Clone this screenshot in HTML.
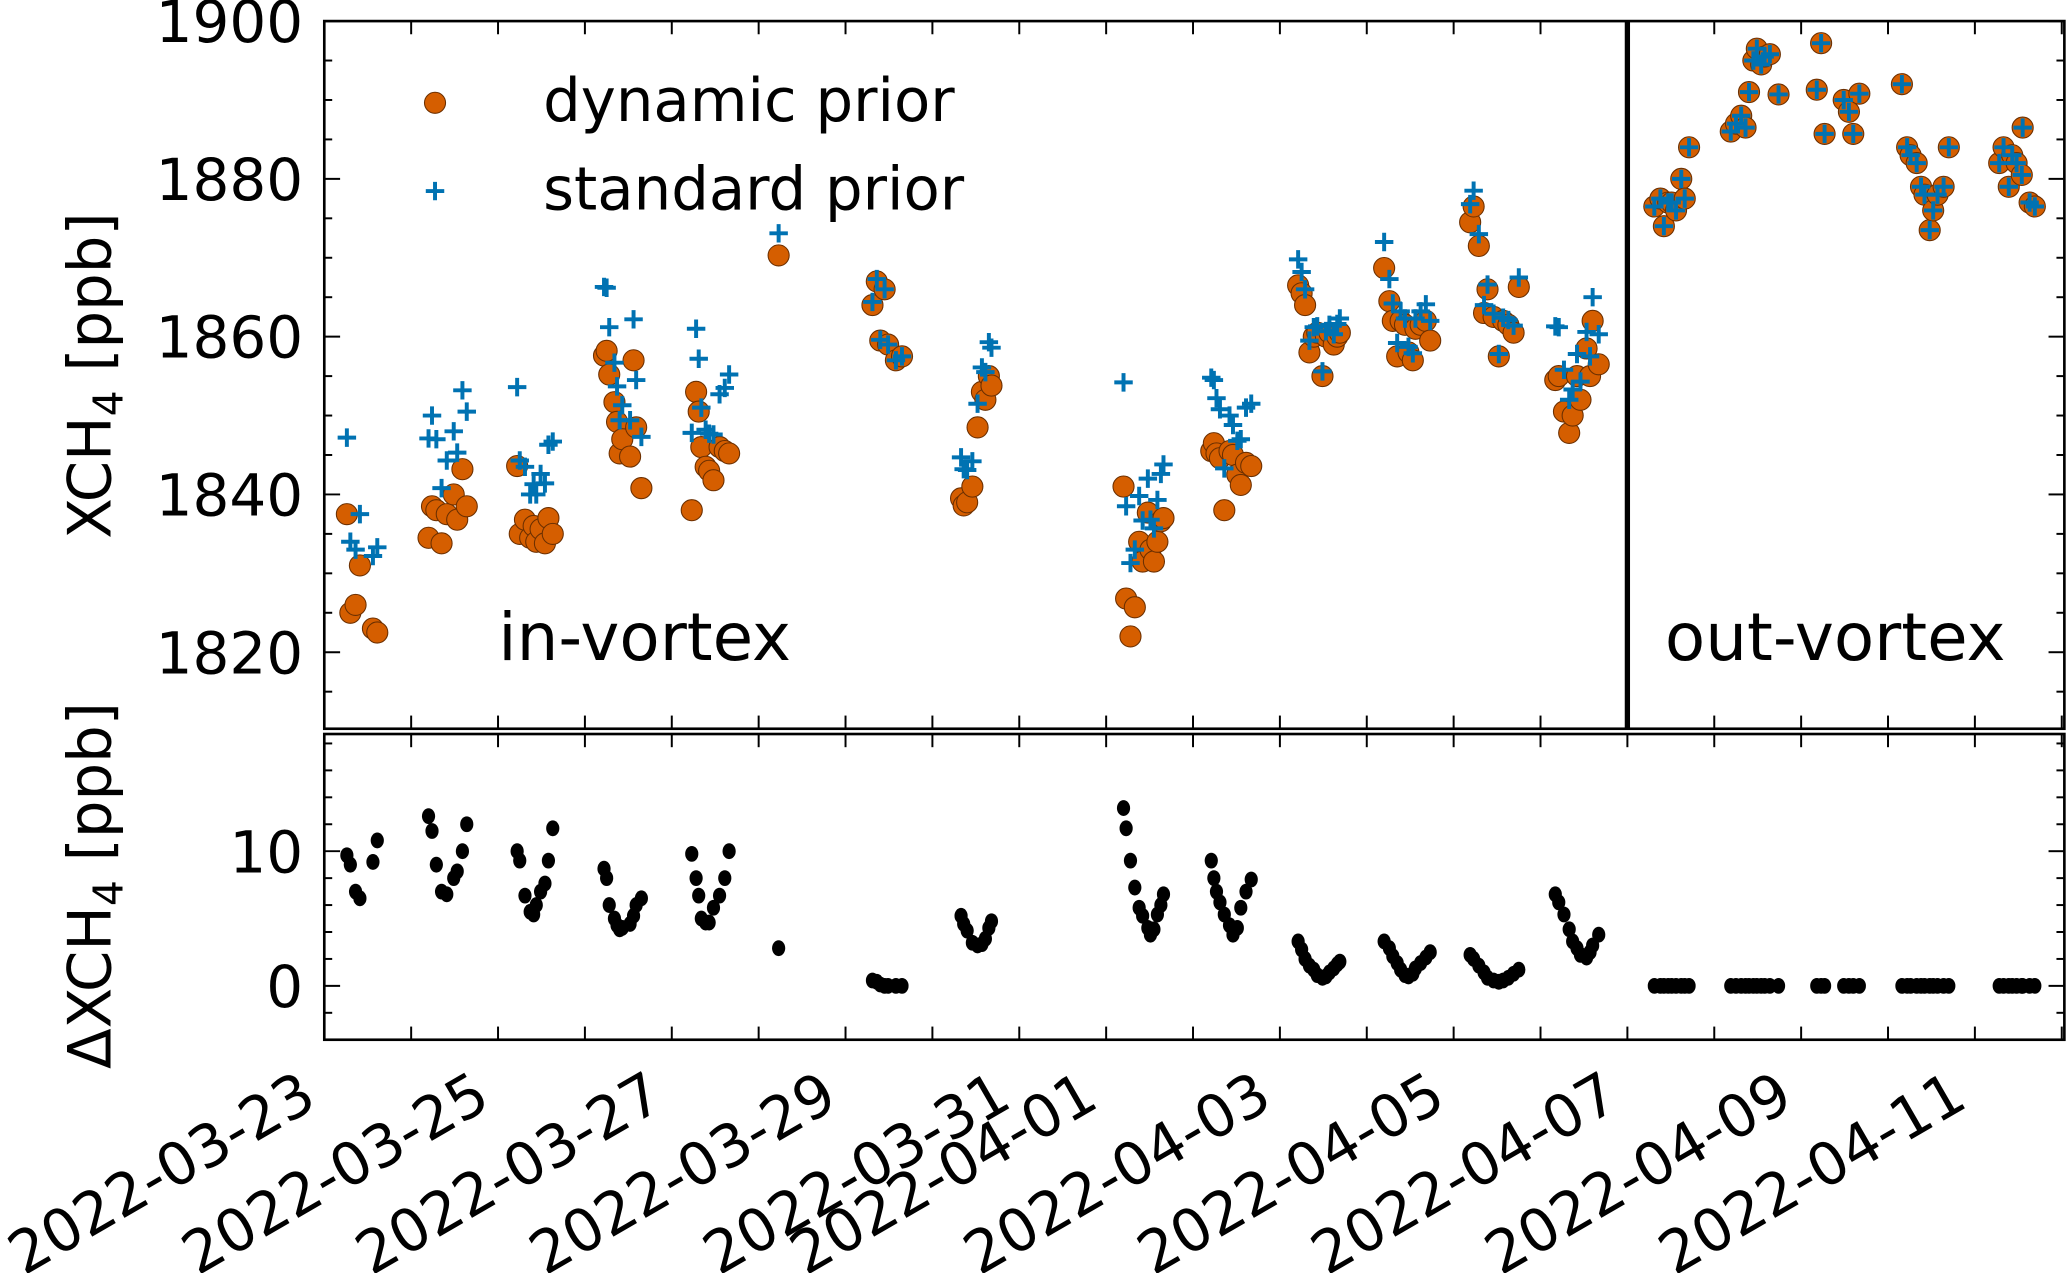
<!DOCTYPE html>
<html><head><meta charset="utf-8"><style>
html,body{margin:0;padding:0;background:#fff;}
svg{display:block;font-family:"DejaVu Sans","Liberation Sans",sans-serif;}
</style></head><body>
<svg id="chart" width="2067" height="1273" viewBox="0 0 1568 966" preserveAspectRatio="none" xmlns="http://www.w3.org/2000/svg">
<g id="gtop"></g>
<g id="gbot"></g>
<g id="gxl"></g>
<text transform="translate(84,285) rotate(-90)" text-anchor="middle" font-size="45">XCH<tspan font-size="31" dy="9">4</tspan><tspan dy="-9"> [ppb]</tspan></text>
<text transform="translate(84,672) rotate(-90)" text-anchor="middle" font-size="45">ΔXCH<tspan font-size="31" dy="9">4</tspan><tspan dy="-9"> [ppb]</tspan></text>
<g>
<circle cx="330" cy="78" r="8" fill="#d55e00" stroke="#6b2f00" stroke-width="0.8"/>
<text x="412" y="92" font-size="45">dynamic prior</text>
<path d="M323,145h14M330,138v14" stroke="#0072b2" stroke-width="3"/>
<text x="412" y="159" font-size="45">standard prior</text>
</g>
<text x="378" y="501" font-size="50">in-vortex</text>
<text x="1263" y="501" font-size="50">out-vortex</text>
</svg>
<script>
// days since 2022-03-23 00:00
const times = [0.26,0.30,0.36,0.41,0.56,0.61,
1.20,1.24,1.29,1.35,1.41,1.49,1.53,1.59,1.64,
2.22,2.25,2.31,2.37,2.41,2.44,2.49,2.54,2.58,2.63,
3.22,3.25,3.28,3.34,3.37,3.40,3.43,3.52,3.56,3.59,3.65,
4.23,4.28,4.31,4.34,4.39,4.43,4.48,4.55,4.61,4.66,
5.23,
6.31,6.36,6.40,6.45,6.49,6.58,6.65,
7.33,7.36,7.40,7.46,7.52,7.57,7.61,7.65,7.68,
9.20,9.23,9.28,9.33,9.38,9.42,9.48,9.51,9.55,9.59,9.63,9.66,
10.21,10.24,10.27,10.31,10.36,10.42,10.46,10.51,10.55,10.61,10.67,
11.21,11.25,11.29,11.34,11.39,11.43,11.49,11.53,11.57,11.62,11.66,11.69,
12.20,12.26,12.30,12.35,12.39,12.44,12.48,12.53,12.56,12.62,12.68,12.73,
13.19,13.23,13.29,13.35,13.39,13.46,13.52,13.57,13.63,13.69,13.75,
14.17,14.21,14.27,14.33,14.37,14.42,14.46,14.53,14.57,14.60,14.67,
15.31,15.38,15.42,15.47,15.51,15.56,15.62,15.66,15.71,
16.19,16.25,16.31,16.36,16.40,16.45,16.49,16.54,16.58,16.64,16.74,
17.18,17.23,17.27,17.49,17.55,17.60,17.67,
18.16,18.22,18.26,18.33,18.38,18.42,18.48,18.52,18.57,18.64,18.70,
19.28,19.33,19.39,19.43,19.48,19.54,19.55,19.63,19.69];
const dynamicPrior = [1837.5,1825,1826,1831,1823,1822.5,
1834.5,1838.5,1838,1833.8,1837.5,1840,1836.8,1843.2,1838.5,
1843.6,1835,1836.8,1834.5,1836,1834,1835.6,1833.8,1837,1835,
1857.6,1858.2,1855.2,1851.7,1849.2,1845.2,1847,1844.8,1857,1848.5,1840.8,
1838,1853,1850.5,1846,1843.5,1843,1841.8,1846,1845.5,1845.2,
1870.3,
1864,1867,1859.5,1866,1859,1857,1857.5,
1839.5,1838.6,1839,1841,1848.5,1853,1852,1855,1853.8,
1841,1826.8,1822,1825.7,1834,1831.5,1837.7,1833,1831.5,1834,1836.6,1837,
1845.5,1846.5,1845.2,1844.6,1838,1845.5,1845,1842.5,1841.2,1844,1843.6,
1866.5,1865.5,1864,1858,1860,1860.5,1855,1860,1860.5,1859,1860,1860.5,
1868.7,1864.5,1862,1857.5,1862,1861.5,1858,1857,1861,1861.5,1862,1859.5,
1874.5,1876.5,1871.5,1863,1866,1862.5,1857.5,1862,1861.5,1860.5,1866.3,
1854.5,1855,1850.5,1847.8,1850,1855,1852,1858.5,1855,1862,1856.5,
1876.5,1877.5,1874,1877,1877,1876,1880,1877.5,1884,
1886,1887,1888,1886.5,1891,1895,1896.5,1894.5,1895.5,1895.8,1890.7,
1891.3,1897.2,1885.7,1890,1888.5,1885.7,1890.8,
1892,1884,1883,1882,1879,1878,1873.5,1876,1878,1879,1884,
1882,1884,1879,1883,1882,1880.5,1886.5,1877,1876.5];
const standardPrior = [1847.2,1834,1833,1837.5,1832.2,1833.3,
1847.1,1850,1847,1840.8,1844.3,1848,1845.3,1853.2,1850.5,
1853.6,1844.3,1843.5,1840,1841.3,1840,1842.6,1841.4,1846.3,1846.7,
1866.3,1866.2,1861.2,1856.7,1853.7,1849.4,1851.3,1849.4,1862.2,1854.5,1847.3,
1847.8,1861,1857.2,1851,1848.2,1847.7,1847.6,1852.7,1853.5,1855.2,
1873.1,
1864.4,1867.3,1859.6,1866,1859,1857,1857.5,
1844.7,1843.2,1843.1,1844.2,1851.5,1856.1,1855.5,1859.3,1858.6,
1854.2,1838.5,1831.3,1833,1839.8,1836.7,1842,1836.8,1835.7,1839.3,1842.6,1843.8,
1854.8,1854.5,1852.2,1850.8,1843.3,1850,1848.8,1846.8,1847,1851,1851.5,
1869.8,1868.2,1866,1859.5,1861.2,1861.3,1855.6,1860.7,1861.5,1860.3,1861.6,1862.3,
1872,1867.3,1864.2,1859.2,1863.2,1862.3,1858.7,1857.9,1862.3,1863.2,1864.1,1862,
1876.8,1878.5,1873,1864,1866.6,1862.9,1857.8,1862.4,1862.1,1861.4,1867.5,
1861.3,1861.2,1855.8,1852,1853.3,1857.8,1854.3,1860.6,1857.5,1865,1860.3,
1876.5,1877.5,1874,1877,1877,1876,1880,1877.5,1884,
1886,1887,1888,1886.5,1891,1895,1896.5,1894.5,1895.5,1895.8,1890.7,
1891.3,1897.2,1885.7,1890,1888.5,1885.7,1890.8,
1892,1884,1883,1882,1879,1878,1873.5,1876,1878,1879,1884,
1882,1884,1879,1883,1882,1880.5,1886.5,1877,1876.5];
const yTicksTop = [1820,1840,1860,1880,1900];
const yTicksBot = [0,10];
const xTickLabels = ["2022-03-23","2022-03-25","2022-03-27","2022-03-29","2022-03-31","2022-04-01","2022-04-03","2022-04-05","2022-04-07","2022-04-09","2022-04-11"];
const xTickDays = [0,2,4,6,8,9,11,13,15,17,19];

const NS="http://www.w3.org/2000/svg";
const L=246,R=1566,T1=16,B1=553,T2=557,B2=789;
const X0=0,X1=20.03;
const xs=d=>L+(d-X0)/(X1-X0)*(R-L);
const yTopMin=1810.3,yTopMax=1900;
const yT=v=>B1-(v-yTopMin)/(yTopMax-yTopMin)*(B1-T1);
const yBotMin=-4.0,yBotMax=18.7;
const yB=v=>B2-(v-yBotMin)/(yBotMax-yBotMin)*(B2-T2);
function mk(tag,attrs,parent){const e=document.createElementNS(NS,tag);for(const k in attrs)e.setAttribute(k,attrs[k]);parent.appendChild(e);return e;}
const gTop=document.getElementById('gtop'),gBot=document.getElementById('gbot'),gXl=document.getElementById('gxl');

function frame(g,t,b,name){
  const r=mk('rect',{x:L,y:t,width:R-L,height:b-t,fill:'none',stroke:'#000','stroke-width':2},g);
  
  
  for(let d=0;d<=20;d++){
    const xx=xs(d);
    mk('line',{x1:xx,x2:xx,y1:b,y2:b-10,stroke:'#000','stroke-width':1.5},g);
    mk('line',{x1:xx,x2:xx,y1:t,y2:t+10,stroke:'#000','stroke-width':1.5},g);
  }
}
frame(gTop,T1,B1,'top-axes-frame');
frame(gBot,T2,B2,'bottom-axes-frame');
for(let v=1815;v<=1900;v+=5){
  const major=(v%20===0);const len=major?12:6;const yy=yT(v);
  mk('line',{x1:L,x2:L+len,y1:yy,y2:yy,stroke:'#000','stroke-width':1.5},gTop);
  mk('line',{x1:R,x2:R-len,y1:yy,y2:yy,stroke:'#000','stroke-width':1.5},gTop);
}
yTicksTop.forEach(v=>{
  const t=mk('text',{x:L-16,y:yT(v)+16,'text-anchor':'end','font-size':44},gTop);
  
  
  t.textContent=v;
});
for(let v=-2;v<=18;v+=2){
  const major=(v%10===0);const len=major?12:6;const yy=yB(v);
  mk('line',{x1:L,x2:L+len,y1:yy,y2:yy,stroke:'#000','stroke-width':1.5},gBot);
  mk('line',{x1:R,x2:R-len,y1:yy,y2:yy,stroke:'#000','stroke-width':1.5},gBot);
}
yTicksBot.forEach(v=>{
  const t=mk('text',{x:L-16,y:yB(v)+16,'text-anchor':'end','font-size':44},gBot);
  
  
  t.textContent=v;
});
xTickLabels.forEach((s,i)=>{
  const xx=xs(xTickDays[i]);
  const t=mk('text',{transform:`translate(${xx-4},${B2+50}) rotate(-30)`,'text-anchor':'end','font-size':44.5},gXl);
  
  
  t.textContent=s;
});
const sep=mk('line',{x1:xs(15),x2:xs(15),y1:T1,y2:B1,stroke:'#000','stroke-width':4},gTop);



times.forEach((d,i)=>{
  const c=mk('circle',{cx:xs(d),cy:yT(dynamicPrior[i]),r:8,fill:'#d55e00',stroke:'#6b2f00','stroke-width':0.8},gTop);
  
  
});
times.forEach((d,i)=>{
  const xx=xs(d),yy=yT(standardPrior[i]);
  const p=mk('path',{d:`M${xx-7},${yy}h14M${xx},${yy-7}v14`,stroke:'#0072b2','stroke-width':3,fill:'none'},gTop);
  
  
});
times.forEach((d,i)=>{
  const c=mk('ellipse',{cx:xs(d),cy:yB(standardPrior[i]-dynamicPrior[i]),rx:5,ry:6,fill:'#000'},gBot);
  
  
});
</script>
</body></html>
